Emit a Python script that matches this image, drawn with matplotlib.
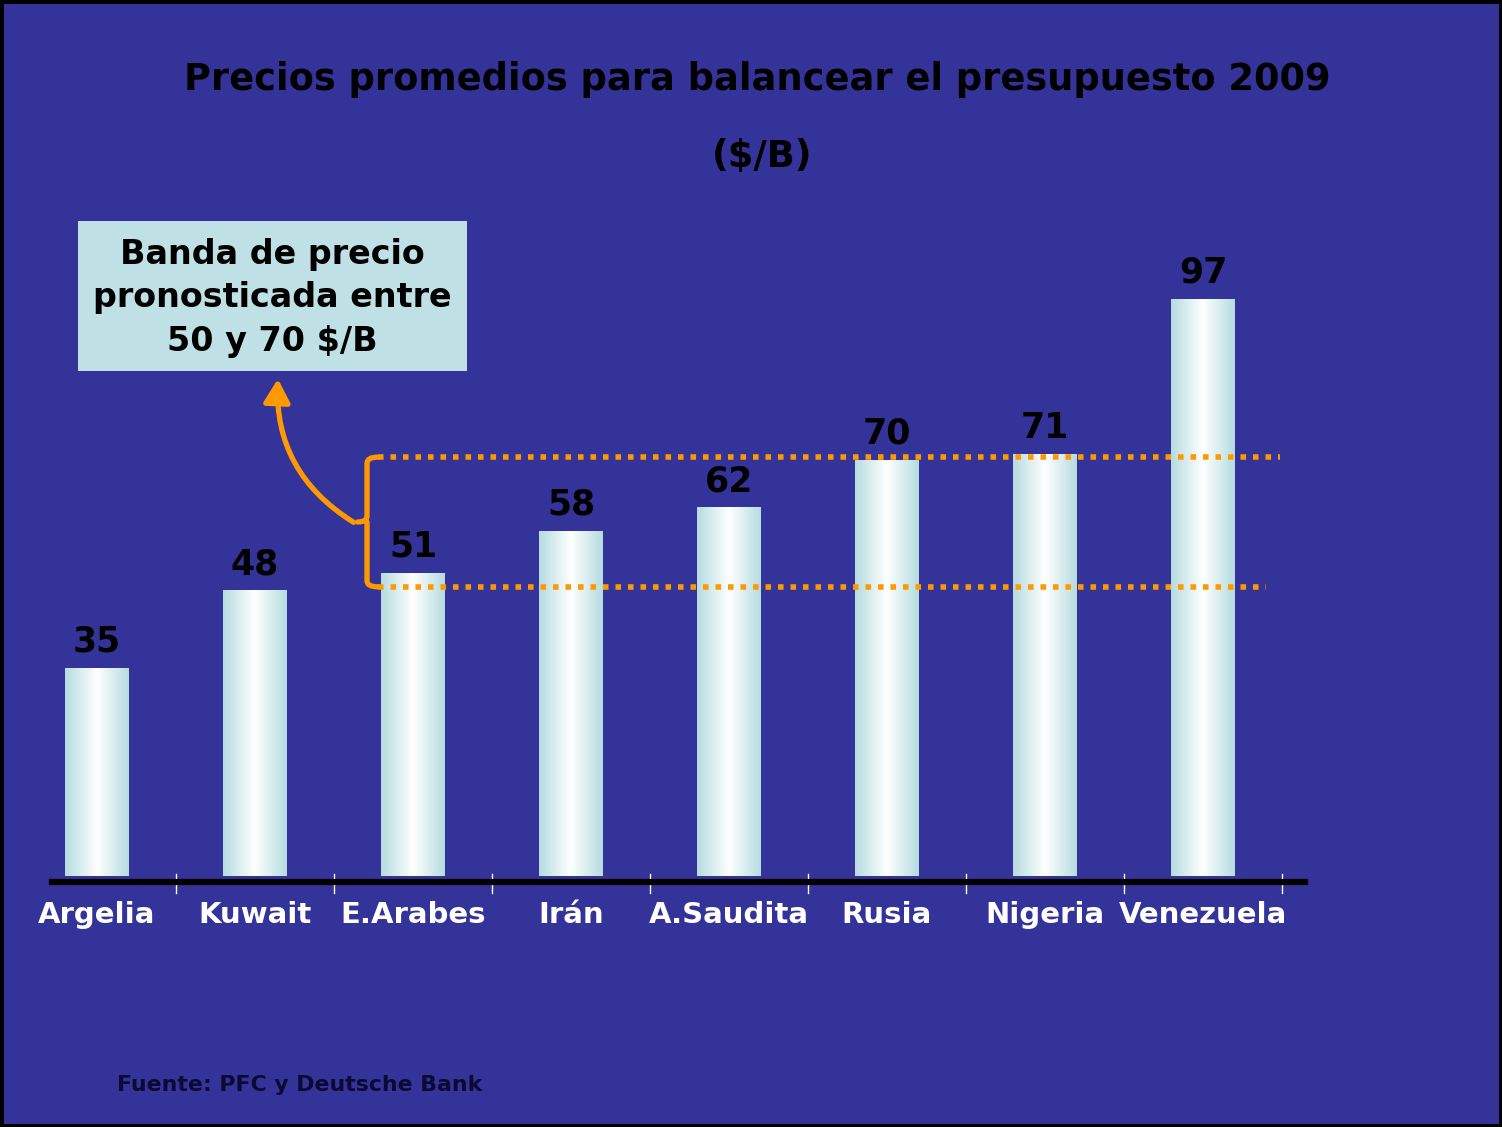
import numpy as np
import matplotlib.pyplot as plt
from matplotlib.patches import Rectangle, FancyArrowPatch, PathPatch
from matplotlib.path import Path
from matplotlib.colors import LinearSegmentedColormap

paises = ["Argelia", "Kuwait", "E.Arabes", "Irán", "A.Saudita", "Rusia", "Nigeria", "Venezuela"]
precios = [35, 48, 51, 58, 62, 70, 71, 97]
banda = [48.6, 70.4]   # lineas punteadas de la banda 50-70 $/B

fondo = "#333399"
naranja = "#FF9900"
caja = "#BFE1E6"

W, H = 1502, 1127
fig = plt.figure(figsize=(W / 100, H / 100), dpi=100, facecolor=fondo)
plt.rcParams['font.family'] = ['DejaVu Sans']

# axes placed in pixels: category width 158 px, 5.95 px per $/B
ax = fig.add_axes([18 / W, (H - 876) / H, 1264 / W, 595 / H])
ax.set_facecolor(fondo)
ax.patch.set_alpha(0)
x = np.arange(len(paises))

# bars with a cyan-white-cyan gradient
grad = LinearSegmentedColormap.from_list("g", ["#B6DCE0", "#FFFFFF", "#B6DCE0"])
g = np.linspace(0, 1, 200).reshape(1, -1)
bars = ax.bar(x, precios, width=0.405, color="none", edgecolor="none", zorder=2)
for b, v in zip(bars, precios):
    x0 = b.get_x()
    im = ax.imshow(g, cmap=grad, aspect="auto", zorder=2,
                   extent=[x0, x0 + b.get_width(), 0, v])
    im.set_clip_path(b)
    ax.text(b.get_x() + b.get_width() / 2, v + 1.5, str(v), ha="center", va="bottom",
            fontsize=25, fontweight="bold", color="black", zorder=4)
ax.set_xlim(-0.5, len(paises) - 0.5)
ax.set_ylim(0, 100)

for s in ax.spines.values():
    s.set_visible(False)
ax.set_yticks([])
ax.set_xticks(x)
ax.set_xticklabels(paises, fontsize=21, fontweight="bold", color="white")
ax.tick_params(axis="x", length=0, pad=18)
# small white ticks between categories
for t in np.arange(0.5, len(paises), 1.0):
    ax.plot([t, t], [0.3, -2.8], color="white", lw=1, clip_on=False, zorder=3)

# thick black baseline
fig.add_artist(plt.Line2D([52 / W, 1305 / W], [(H - 882) / H] * 2, color="black", lw=4.5))

# dotted band lines
ax.plot([1.778, 7.487], [banda[1]] * 2, color=naranja, lw=4, dashes=(1.0, 1.25), zorder=3)
ax.plot([1.778, 7.399], [banda[0]] * 2, color=naranja, lw=4, dashes=(1.0, 1.25), zorder=3)

# curly bracket joining the two lines
bx = 1.709
ym = (banda[0] + banda[1]) / 2
dx = 0.07
dy = 1.0
verts = [(bx + dx, banda[1]), (bx, banda[1]), (bx, banda[1] - dy),
         (bx, ym + dy), (bx, ym), (bx - 0.06, ym),
         (bx, ym), (bx, ym - dy),
         (bx, banda[0] + dy), (bx, banda[0]), (bx + dx, banda[0])]
codes = [Path.MOVETO, Path.CURVE3, Path.CURVE3,
         Path.LINETO, Path.CURVE3, Path.CURVE3,
         Path.MOVETO, Path.LINETO,
         Path.LINETO, Path.CURVE3, Path.CURVE3]
ax.add_patch(PathPatch(Path(verts, codes), fill=False, edgecolor=naranja, lw=3.8,
                       capstyle="round", joinstyle="round", zorder=3))

# curved arrow to the text box
arr = FancyArrowPatch((bx - 0.07, ym - 0.3), (1.146, 84.0),
                      connectionstyle="arc3,rad=-0.3",
                      arrowstyle="-|>,head_length=14,head_width=8",
                      color=naranja, lw=3.8, clip_on=False, zorder=3)
ax.add_patch(arr)

# text box
fig.add_artist(Rectangle((78 / W, (H - 371) / H), 389 / W, 150 / H,
                         facecolor=caja, edgecolor="none"))
fig.text(272 / W, (H - 298) / H, "Banda de precio\npronosticada entre\n50 y 70 $/B",
         ha="center", va="center", fontsize=24, fontweight="bold", color="black",
         linespacing=1.42)

# titles
fig.text(757 / W, (H - 80) / H, "Precios promedios para balancear el presupuesto 2009",
         ha="center", va="center", fontsize=26.5, fontweight="bold", color="black")
fig.text(762 / W, (H - 157) / H, "($/B)", ha="center", va="center",
         fontsize=26.5, fontweight="bold", color="black")
fig.text(117 / W, (H - 1085) / H, "Fuente: PFC y Deutsche Bank", ha="left", va="center",
         fontsize=15.8, fontweight="bold", color="#0A0A33")

# frame around the slide
fig.add_artist(Rectangle((0, 0), 1, 1, transform=fig.transFigure, fill=False,
                         edgecolor="black", lw=5))

fig.savefig("out.png", dpi=100, facecolor=fondo)
